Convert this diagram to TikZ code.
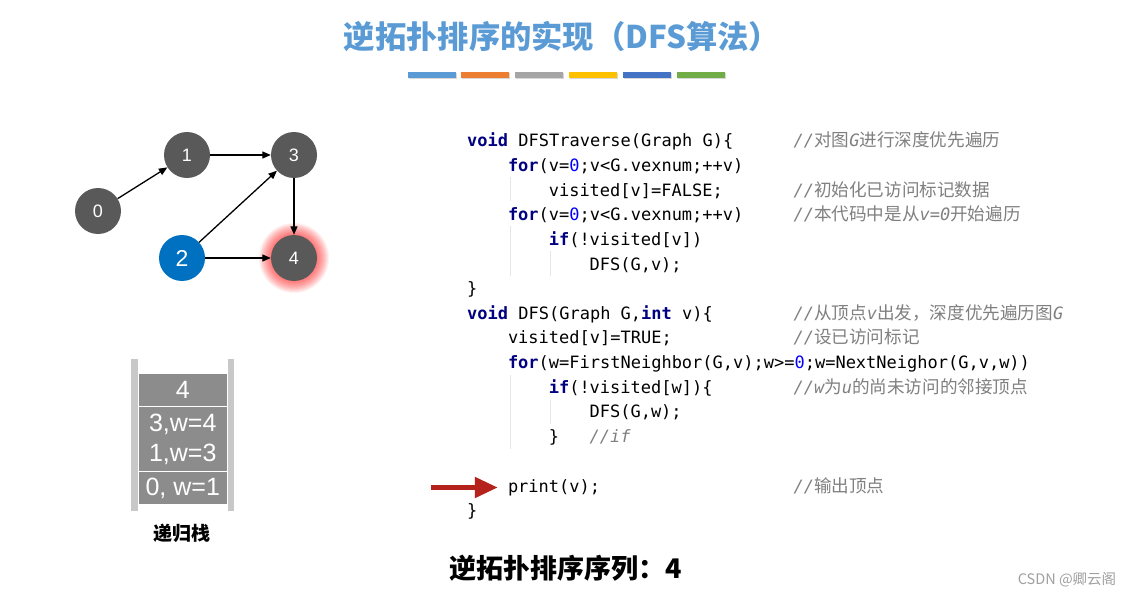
\documentclass[tikz,border=0pt]{standalone}
\usepackage{fontspec}
\usetikzlibrary{arrows.meta,shadows}
\setmainfont{Liberation Sans}
\setsansfont{Liberation Sans}
\setmonofont{DejaVu Sans Mono}
\newfontfamily\cjk{Noto Sans CJK SC}
\definecolor{titleblue}{HTML}{5B9BD5}
\definecolor{barA}{HTML}{5B9BD5}
\definecolor{barB}{HTML}{ED7D31}
\definecolor{barC}{HTML}{A5A5A5}
\definecolor{barD}{HTML}{FFC000}
\definecolor{barE}{HTML}{4472C4}
\definecolor{barF}{HTML}{70AD47}
\definecolor{kwc}{HTML}{000080}
\definecolor{nmc}{HTML}{0000FF}
\definecolor{cmc}{HTML}{808080}
\definecolor{guidec}{HTML}{E6E6E6}
\definecolor{nodegray}{HTML}{595959}
\definecolor{nodeblue}{HTML}{0070C0}
\definecolor{cellgray}{HTML}{8C8C8C}
\definecolor{stackbar}{HTML}{C8C8C8}
\definecolor{arrowred}{HTML}{B5211B}
\definecolor{wmc}{HTML}{A0A0A0}
\newcommand{\kwd}[1]{{\color{kwc}\bfseries #1}}
\newcommand{\nmb}[1]{{\color{nmc}#1}}
\newcommand{\ci}[1]{{\ttfamily\itshape\fontsize{17}{20}\selectfont #1}}
\newcommand{\cjkc}{\cjk\fontsize{17.6}{20}\selectfont}
\tikzset{
  code/.style={anchor=base west, inner sep=0pt, font=\ttfamily\fontsize{17}{20}\selectfont, text height=13pt, text depth=4pt},
  cmt/.style={anchor=base west, inner sep=0pt, text=cmc, font=\ttfamily\fontsize{17}{20}\selectfont},
  gnode/.style={circle, minimum size=46pt, inner sep=0pt, fill=nodegray, text=white, font=\fontsize{18}{20}\selectfont},
  garrow/.style={line width=1.3pt, -{Triangle[length=8.5pt,width=7pt]}},
  redarrow/.style={arrowred, line width=5pt, -{Triangle[length=23pt,width=20pt]}},
  cell/.style={fill=cellgray, minimum width=88.5pt, inner sep=0pt, text=white, font=\fontsize{25}{30}\selectfont, align=center},
  guide/.style={guidec, line width=1pt},
  colorbar/.style={drop shadow={opacity=0.3, shadow xshift=1pt, shadow yshift=-1.5pt}},
}
\begin{document}
\begin{tikzpicture}[x=1pt, y=-1pt]
\fill[white] (0,0) rectangle (1132,596);
\useasboundingbox (0,0) rectangle (1132,596);

% title
\node[font=\cjk\bfseries\fontsize{31.3}{34}\selectfont, text=titleblue] (title) at (562,37) {逆拓扑排序的实现（DFS算法）};
\fill[barA, colorbar] (408,72) rectangle (456,78);
\fill[barB, colorbar] (461,72) rectangle (509,78);
\fill[barC, colorbar] (515,72) rectangle (563,78);
\fill[barD, colorbar] (569,72) rectangle (617,78);
\fill[barE, colorbar] (623,72) rectangle (671,78);
\fill[barF, colorbar] (677,72) rectangle (725,78);

% graph
\coordinate (g4) at (294,258);
\foreach \r in {24,25,...,35} { \fill[red, opacity=0.055] (g4) circle (\r pt); }
\node[gnode] (n0) at (98,211) {0};
\node[gnode] (n1) at (187,155) {1};
\node[gnode] (n3) at (294,155) {3};
\node[gnode, fill=nodeblue, font=\fontsize{23}{24}\selectfont] (n2) at (182,258) {2};
\node[gnode] (n4) at (g4) {4};
\draw[garrow] (n0) -- (n1);
\draw[garrow] (n1) -- (n3);
\draw[garrow] (n2) -- (n3);
\draw[garrow] (n3) -- (n4);
\draw[garrow] (n2) -- (n4);

% stack
\fill[stackbar] (131,359) rectangle (137.5,511);
\fill[stackbar] (227.5,359) rectangle (234,511);
\node[cell, minimum height=32pt] (s1) at (182.75,390) {4};
\node[cell, minimum height=64pt] (s2) at (182.75,439) {3,w=4\\1,w=3};
\node[cell, minimum height=32pt] (s3) at (182.75,488) {0, w=1};
\node[font=\cjk\bfseries\fontsize{19}{22}\selectfont] (slabel) at (182,533) {递归栈};

% code guides
\draw[guide] (510,177) -- (510,201.5);
\draw[guide] (510,226) -- (510,275.5);
\draw[guide] (550,251) -- (550,275.5);
\draw[guide] (510,375) -- (510,448.5);
\draw[guide] (550,399.5) -- (550,424);

% code
\node[code] (l1) at (467,147) {\kwd{void} DFSTraverse(Graph G)\{};
\node[code] (l2) at (507.8,171.6) {\kwd{for}(v=\nmb{0};v<G.vexnum;++v)};
\node[code] (l3) at (548.6,196.2) {visited[v]=FALSE;};
\node[code] (l4) at (507.8,220.8) {\kwd{for}(v=\nmb{0};v<G.vexnum;++v)};
\node[code] (l5) at (548.6,245.4) {\kwd{if}(!visited[v])};
\node[code] (l6) at (589.4,270) {DFS(G,v);};
\node[code] (l7) at (467,294.6) {\}};
\node[code] (l8) at (467,319.2) {\kwd{void} DFS(Graph G,\kwd{int} v)\{};
\node[code] (l9) at (507.8,343.8) {visited[v]=TRUE;};
\node[code] (l10) at (507.8,368.4) {\kwd{for}(w=FirstNeighbor(G,v);w>=\nmb{0};w=NextNeighor(G,v,w))};
\node[code] (l11) at (548.6,393) {\kwd{if}(!visited[w])\{};
\node[code] (l12) at (589.4,417.6) {DFS(G,w);};
\node[code] (l13) at (548.6,442.2) {\}};
\node[cmt] (c13) at (589.4,442.2) {\ci{//if}};
\node[code] (l15) at (507.8,492) {print(v);};
\node[code] (l16) at (467,516) {\}};

% comments
\node[cmt] (c1) at (793.4,147) {\ci{//}{\cjkc 对图}\ci{G}{\cjkc 进行深度优先遍历}};
\node[cmt] (c3) at (793.4,196.2) {\ci{//}{\cjkc 初始化已访问标记数据}};
\node[cmt] (c4) at (793.4,220.8) {\ci{//}{\cjkc 本代码中是从}\ci{v=0}{\cjkc 开始遍历}};
\node[cmt] (c8) at (793.4,319.2) {\ci{//}{\cjkc 从顶点}\ci{v}{\cjkc 出发，深度优先遍历图}\ci{G}};
\node[cmt] (c9) at (793.4,343.8) {\ci{//}{\cjkc 设已访问标记}};
\node[cmt] (c11) at (793.4,393) {\ci{//w}{\cjkc 为}\ci{u}{\cjkc 的尚未访问的邻接顶点}};
\node[cmt] (c15) at (793.4,492) {\ci{//}{\cjkc 输出顶点}};

% red arrow
\coordinate (ra) at (431,487);
\draw[redarrow] (l15.west -| ra) -- ([xshift=-10pt]l15.west);

% result
\node[font=\cjk\bfseries\fontsize{27}{30}\selectfont] (seq) at (566,568) {逆拓扑排序序列：4};

% watermark
\node[font=\cjk\fontsize{14.5}{16}\selectfont, text=wmc] (wm) at (1067,580) {CSDN @卿云阁};
\end{tikzpicture}
\end{document}
